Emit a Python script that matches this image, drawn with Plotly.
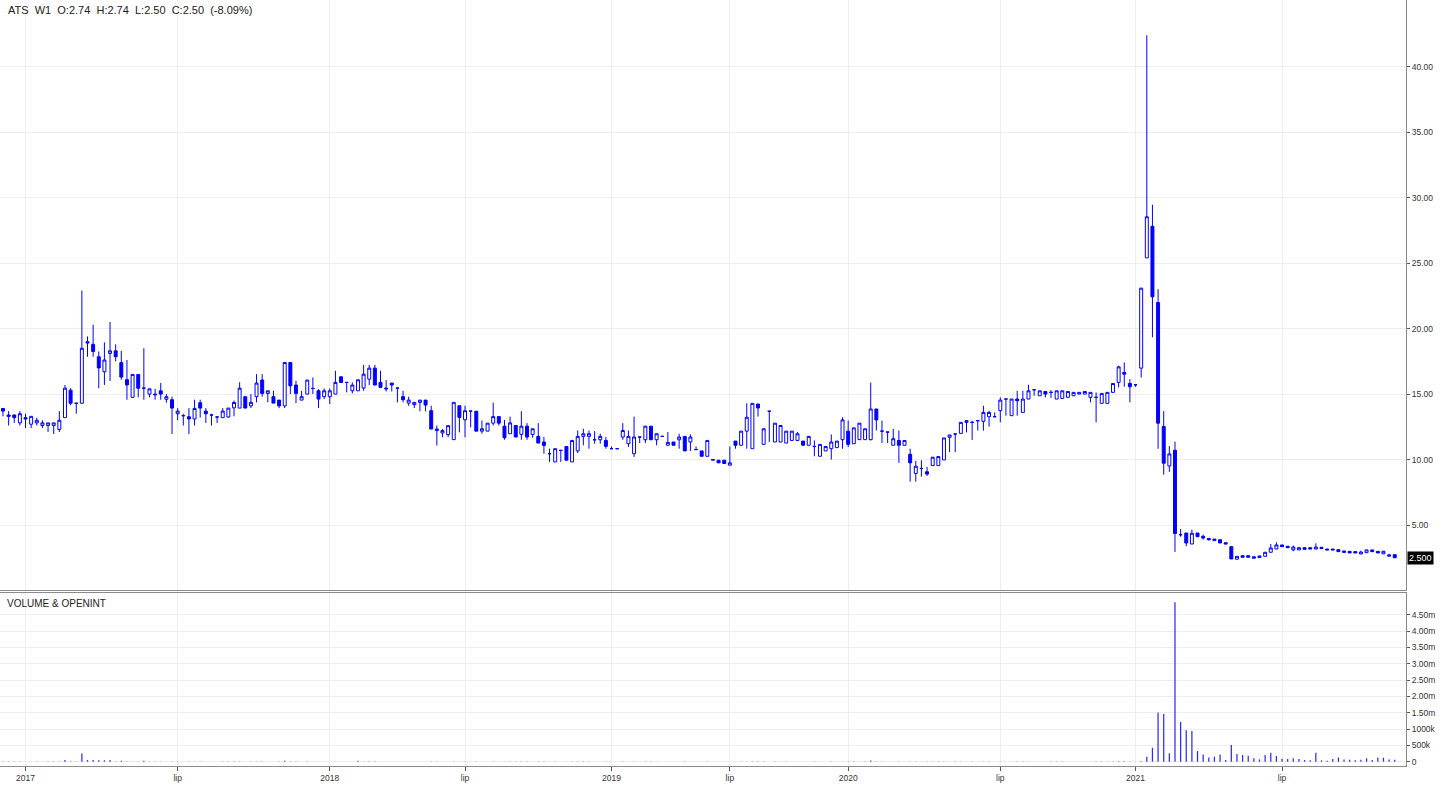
import plotly.graph_objects as go

symbol = "ATS"
interval = "W1"

opens = [
 13.9, 13.4, 13.4, 12.8, 13.2, 12.7, 12.8, 12.6, 12.6, 12.6,
 12.3, 13.2, 15.3, 14.3, 14.3, 19.0, 18.8, 17.85, 16.7, 18.1,
 18.3, 17.4, 16.1, 14.75, 16.5, 15.45, 15.0, 15.0, 15.25, 14.6,
 14.57, 13.5, 13.35, 13.27, 13.1, 14.34, 13.7, 13.4, 13.25, 13.2,
 13.25, 13.95, 13.93, 14.8, 14.1, 14.8, 16.07, 15.05, 14.8, 14.54,
 14.1, 17.41, 15.69, 14.54, 15.0, 15.43, 15.25, 14.8, 14.8, 15.0,
 16.32, 15.89, 15.25, 15.25, 15.46, 16.14, 16.98, 15.89, 15.46, 15.84,
 15.46, 14.8, 14.31, 14.19, 14.37, 14.54, 13.73, 12.21, 12.03, 11.9,
 11.52, 14.11, 13.04, 13.7, 13.69, 12.17, 12.17, 12.78, 13.28, 12.55,
 11.97, 12.6, 11.92, 12.55, 11.92, 11.77, 11.34, 10.45, 9.82, 10.7,
 11.0, 9.82, 10.66, 11.77, 11.77, 11.51, 11.51, 11.46, 10.83, 10.83,
 11.72, 11.21, 10.45, 11.72, 11.51, 12.55, 11.51, 11.77, 11.09, 11.34,
 11.51, 11.77, 11.34, 10.76, 10.66, 10.25, 9.95, 9.95, 9.95, 9.57,
 11.41, 11.09, 12.17, 10.83, 14.24, 11.16, 13.69, 11.34, 11.34, 11.26,
 11.46, 11.46, 11.41, 11.09, 11.0, 10.25, 10.66, 10.83, 10.91, 11.52,
 12.17, 11.21, 11.52, 11.52, 11.52, 13.86, 12.17, 12.1, 11.09, 11.46,
 11.09, 10.4, 8.94, 9.32, 9.07, 9.54, 9.54, 9.97, 11.7, 11.95,
 12.0, 12.84, 12.84, 12.97, 12.92, 13.27, 13.27, 13.73, 14.62, 13.35,
 14.62, 13.6, 14.62, 15.33, 14.87, 15.2, 15.13, 14.62, 14.67, 14.75,
 14.87, 15.0, 15.0, 14.75, 14.75, 14.29, 14.29, 15.13, 15.89, 16.65,
 15.81, 15.71, 16.98, 25.4, 27.81, 21.99, 12.52, 9.51, 10.71, 4.26,
 4.39, 3.55, 4.39, 4.14, 3.98, 3.81, 3.88, 3.65, 3.35, 2.39,
 2.66, 2.66, 2.46, 2.51, 2.61, 2.92, 3.17, 3.48, 3.38, 3.10,
 3.10, 3.27, 3.27, 3.17, 3.30, 3.17, 3.17, 3.12, 3.02, 2.99,
 2.97, 2.79, 2.89, 3.10, 2.99, 2.80, 2.62, 2.74,
]
highs = [
 13.9, 13.7, 13.45, 13.7, 13.5, 13.3, 13.2, 13.0, 12.8, 12.8,
 13.7, 15.7, 15.45, 14.3, 22.9, 19.4, 20.3, 18.25, 18.95, 20.5,
 18.8, 18.3, 17.6, 16.5, 16.5, 18.5, 15.4, 15.4, 15.85, 15.0,
 14.8, 13.93, 13.5, 13.93, 14.57, 14.57, 13.93, 13.5, 13.25, 13.93,
 13.93, 14.5, 15.9, 14.8, 15.0, 16.52, 16.52, 15.25, 15.25, 14.54,
 17.41, 17.41, 16.02, 15.25, 16.07, 16.27, 15.38, 15.43, 15.43, 16.78,
 16.32, 15.89, 15.89, 16.09, 17.23, 17.23, 17.23, 16.78, 16.07, 15.84,
 15.46, 15.25, 14.8, 14.37, 14.54, 14.54, 14.11, 12.59, 12.33, 12.59,
 14.37, 14.11, 14.11, 13.7, 13.69, 12.98, 12.78, 14.34, 13.28, 13.03,
 13.28, 12.6, 13.69, 12.78, 12.35, 12.78, 11.72, 10.83, 10.83, 10.7,
 11.0, 11.46, 12.22, 12.35, 12.22, 12.17, 11.97, 11.72, 11.0, 10.83,
 12.78, 12.22, 13.28, 11.72, 12.55, 12.55, 11.97, 11.77, 12.1, 11.34,
 11.97, 11.77, 11.92, 11.0, 10.66, 11.46, 10.0, 9.95, 9.95, 11.0,
 11.41, 12.17, 14.29, 14.29, 14.24, 12.35, 13.69, 12.78, 12.6, 12.17,
 12.17, 12.1, 11.41, 11.77, 11.46, 11.16, 11.0, 11.92, 11.41, 13.23,
 12.98, 12.42, 12.78, 12.35, 15.88, 13.86, 12.98, 12.1, 12.35, 12.22,
 11.46, 10.83, 9.9, 9.95, 9.44, 10.18, 10.23, 11.65, 11.88, 11.95,
 12.84, 13.02, 12.97, 12.97, 14.11, 13.73, 13.6, 14.75, 14.62, 14.62,
 15.25, 15.25, 15.71, 15.33, 15.25, 15.2, 15.3, 15.25, 15.25, 15.2,
 15.13, 15.13, 15.2, 15.13, 15.13, 15.05, 15.13, 15.81, 17.16, 17.41,
 16.14, 15.71, 23.09, 42.4, 29.46, 23.01, 13.7, 11.03, 11.37, 4.70,
 4.39, 4.65, 4.39, 4.26, 3.98, 3.93, 3.88, 3.65, 3.35, 2.61,
 2.70, 2.66, 2.58, 2.64, 2.92, 3.55, 3.68, 3.48, 3.38, 3.43,
 3.27, 3.27, 3.27, 3.60, 3.30, 3.17, 3.17, 3.12, 3.02, 2.99,
 3.0, 3.05, 3.10, 3.10, 2.99, 3.02, 2.80, 2.74,
]
lows = [
 13.3, 12.6, 12.8, 12.6, 12.4, 12.4, 12.6, 12.4, 12.1, 11.95,
 12.1, 13.2, 14.15, 13.5, 14.3, 17.85, 17.85, 15.45, 15.7, 16.0,
 17.5, 16.1, 14.57, 14.75, 14.75, 14.57, 14.75, 14.57, 14.57, 14.34,
 11.95, 13.0, 12.6, 11.95, 12.6, 13.2, 12.8, 12.6, 12.8, 13.2,
 13.2, 13.3, 13.93, 13.93, 13.93, 14.37, 14.8, 14.37, 14.31, 13.93,
 13.93, 15.0, 14.31, 14.54, 15.0, 15.0, 13.93, 14.62, 14.24, 15.0,
 15.89, 15.13, 15.05, 15.25, 15.25, 15.69, 15.69, 15.46, 15.2, 15.2,
 14.37, 14.37, 14.1, 13.93, 13.68, 13.68, 12.33, 11.07, 11.7, 11.7,
 11.52, 12.08, 11.7, 12.47, 12.17, 11.97, 12.17, 12.6, 12.6, 11.51,
 11.97, 11.72, 11.51, 11.51, 11.67, 11.26, 10.45, 9.82, 9.82, 9.82,
 9.95, 9.82, 10.5, 11.09, 10.83, 11.21, 11.21, 10.83, 10.83, 10.83,
 11.51, 10.96, 10.2, 11.26, 11.26, 11.51, 11.09, 11.77, 11.09, 11.09,
 10.83, 10.66, 10.66, 10.76, 10.25, 10.25, 9.95, 9.75, 9.7, 9.57,
 10.83, 11.09, 10.83, 10.83, 13.28, 11.16, 11.34, 11.34, 11.34, 11.26,
 11.46, 11.46, 11.09, 11.09, 10.25, 10.25, 10.66, 10.0, 10.91, 10.83,
 10.96, 11.21, 11.52, 11.52, 11.46, 12.22, 11.26, 11.26, 11.09, 9.75,
 11.09, 8.31, 8.31, 8.69, 8.74, 9.54, 9.54, 9.97, 10.56, 10.56,
 12.0, 12.08, 11.5, 12.21, 12.21, 12.51, 13.27, 12.84, 13.35, 13.35,
 13.35, 13.6, 14.62, 14.87, 14.87, 14.75, 14.7, 14.62, 14.67, 14.75,
 14.87, 15.0, 15.0, 14.37, 12.84, 14.29, 14.29, 15.13, 15.51, 15.56,
 14.37, 15.56, 16.27, 25.4, 19.34, 10.82, 8.85, 9.06, 2.95, 4.11,
 3.38, 3.55, 4.11, 3.88, 3.81, 3.81, 3.63, 3.55, 2.41, 2.39,
 2.54, 2.54, 2.46, 2.51, 2.61, 2.92, 3.17, 3.35, 3.27, 3.0,
 3.10, 3.15, 3.17, 3.17, 3.20, 3.10, 3.10, 2.97, 2.92, 2.87,
 2.87, 2.79, 2.89, 2.97, 2.87, 2.80, 2.60, 2.50,
]
closes = [
 13.7, 13.3, 13.2, 13.5, 13.1, 13.3, 13.0, 12.8, 12.8, 12.8,
 13.0, 15.45, 14.3, 14.3, 18.5, 18.9, 18.25, 17.0, 17.6, 18.3,
 17.85, 16.3, 15.7, 16.5, 15.45, 15.45, 15.4, 14.95, 15.0, 14.8,
 13.93, 13.7, 13.35, 13.1, 13.9, 13.93, 13.5, 13.4, 13.25, 13.7,
 13.93, 14.36, 15.45, 13.93, 14.37, 15.84, 15.05, 15.25, 14.31, 14.1,
 17.41, 15.63, 15.05, 14.8, 16.07, 15.43, 14.62, 15.25, 15.25, 15.89,
 15.89, 15.89, 15.69, 16.09, 16.52, 16.98, 15.69, 15.51, 15.4, 15.69,
 15.46, 14.57, 14.54, 14.37, 14.54, 14.16, 12.33, 12.33, 12.21, 12.59,
 14.37, 13.22, 13.73, 13.7, 12.17, 12.35, 12.78, 13.28, 12.78, 11.67,
 12.8, 11.72, 12.55, 11.72, 12.35, 11.26, 11.08, 10.45, 10.83, 10.7,
 9.95, 11.46, 11.77, 11.97, 11.97, 11.51, 11.77, 11.01, 10.83, 10.83,
 12.22, 11.77, 11.72, 11.72, 12.55, 11.51, 11.97, 11.77, 11.31, 11.09,
 11.72, 10.66, 11.72, 10.76, 10.25, 11.46, 10.0, 9.75, 9.7, 9.75,
 11.09, 12.17, 13.23, 14.29, 13.94, 12.35, 13.69, 12.78, 12.6, 12.17,
 12.17, 11.97, 11.09, 11.77, 11.0, 11.16, 11.0, 11.34, 11.41, 13.03,
 11.16, 12.42, 12.78, 12.35, 13.86, 13.03, 12.17, 12.1, 11.59, 11.09,
 11.46, 9.75, 9.49, 9.32, 8.89, 10.18, 10.23, 11.65, 11.88, 11.95,
 12.84, 12.97, 12.84, 12.97, 13.6, 13.6, 13.27, 14.54, 14.62, 14.62,
 14.49, 14.62, 15.25, 15.33, 15.25, 15.0, 15.13, 15.25, 15.25, 15.2,
 15.13, 15.13, 15.2, 15.13, 14.75, 15.05, 15.13, 15.81, 17.08, 16.52,
 15.56, 15.71, 23.09, 28.54, 22.43, 12.78, 9.72, 10.43, 4.35, 4.26,
 3.63, 4.37, 4.11, 4.01, 3.88, 3.93, 3.63, 3.55, 2.41, 2.61,
 2.54, 2.54, 2.58, 2.64, 2.92, 3.25, 3.48, 3.35, 3.27, 3.32,
 3.27, 3.15, 3.17, 3.32, 3.20, 3.10, 3.10, 2.97, 2.92, 2.87,
 2.87, 2.94, 3.10, 2.97, 2.87, 3.00, 2.72, 2.50,
]
volumes = [
 4000, 3000, 2500, 5000, 3500, 2000, 3000, 2500, 4000, 6000,
 8000, 50000, 12000, 9000, 250000, 50000, 52000, 45000, 44000, 50000,
 9000, 30000, 7000, 6000, 8000, 30000, 5000, 4000, 6000, 3000,
 9000, 3000, 2000, 4000, 5000, 3000, 2000, 1500, 1000, 3000,
 2500, 3000, 6000, 2000, 3000, 5000, 4000, 1500, 2000, 2500,
 30000, 7000, 4000, 1500, 3000, 2000, 3500, 1500, 2000, 4000,
 2000, 1000, 1500, 30000, 5000, 6000, 5000, 3000, 1500, 1000,
 1000, 2000, 1500, 1000, 1500, 2000, 6000, 3000, 1500, 1200,
 8000, 4000, 3000, 1000, 3500, 1500, 1200, 3000, 2000, 3500,
 3000, 2500, 4000, 3000, 1500, 3000, 4000, 2500, 3000, 1000,
 3000, 5000, 4000, 2500, 3000, 1500, 1200, 2500, 800, 500,
 3000, 2500, 6000, 800, 3000, 2500, 1500, 500, 2000, 1000,
 2000, 2500, 1500, 800, 1500, 2500, 600, 1000, 1200, 2000,
 2500, 3000, 7000, 8000, 3000, 3500, 2000, 4000, 3500, 2500,
 2000, 1500, 1500, 2000, 2500, 2000, 1500, 3000, 1500, 5000,
 4000, 3000, 3500, 2500, 40000, 6000, 3000, 1500, 2000, 4000,
 1500, 8000, 6000, 4000, 3000, 3500, 3000, 6000, 3000, 2500,
 4000, 2500, 3500, 1500, 5000, 3000, 1500, 5000, 2000, 4000,
 4500, 4000, 5000, 1500, 2000, 2500, 2500, 3000, 3000, 2000,
 1500, 1500, 2000, 3000, 6000, 4000, 4500, 6000, 12000, 10000,
 9000, 3000, 15000, 153000, 428000, 1510000, 1460000, 255000, 4890000, 1220000,
 967000, 937000, 326000, 224000, 132000, 153000, 224000, 51000, 509000, 234000,
 204000, 183000, 102000, 71000, 204000, 275000, 173000, 92000, 81000, 102000,
 81000, 51000, 41000, 275000, 41000, 31000, 81000, 132000, 71000, 61000,
 41000, 61000, 102000, 51000, 132000, 122000, 71000, 61000,
]

# time axis: week index of the first bar of each labelled period
tick_labels = ["2017", "lip", "2018", "lip", "2019", "lip", "2020", "lip", "2021", "lip"]
tick_index = [4, 31, 58, 82, 108, 129, 150, 177, 201, 227]

price_ticks = [5, 10, 15, 20, 25, 30, 35, 40]
vol_ticks = [0, 500000, 1000000, 1500000, 2000000, 2500000, 3000000, 3500000, 4000000, 4500000]
vol_tick_text = ["0", "500k", "1000k", "1.50m", "2.00m", "2.50m", "3.00m", "3.50m", "4.00m", "4.50m"]

# ---------------------------------------------------------------
W, H = 1456, 791
ML, MR, MT, MB = 0, 50, 0, 25
PH = H - MT - MB  # plot height in px

def py(screen_y):
    return (H - MB - screen_y) / PH

BLUE = "#0000ff"
FONT = "Arial, Liberation Sans, sans-serif"
GRID = "#eeeeee"
AXC = "#8a8a8a"

x = list(range(len(opens)))

fig = go.Figure()
fig.add_trace(go.Candlestick(
    x=x, open=opens, high=highs, low=lows, close=closes,
    increasing=dict(line=dict(color=BLUE, width=1), fillcolor="#ffffff"),
    decreasing=dict(line=dict(color=BLUE, width=1), fillcolor=BLUE),
    whiskerwidth=0, showlegend=False, hoverinfo="skip",
    xaxis="x", yaxis="y",
))
fig.add_trace(go.Bar(
    x=x, y=volumes, width=0.22,
    marker=dict(color="rgba(38,38,255,0.98)", line=dict(width=0)),
    showlegend=False, hoverinfo="skip",
    xaxis="x2", yaxis="y2",
))

xr = [-0.53, 249.0]
fig.update_layout(
    width=W, height=H,
    margin=dict(l=ML, r=MR, t=MT, b=MB),
    paper_bgcolor="white", plot_bgcolor="white",
    font=dict(family=FONT, size=9, color="#333333"),
    boxgap=0.25,
    xaxis=dict(
        domain=[0, 1], anchor="y", range=xr, matches="x2",
        rangeslider=dict(visible=False),
        tickmode="array", tickvals=tick_index, ticktext=tick_labels,
        showticklabels=False, ticks="",
        showgrid=True, gridcolor=GRID, gridwidth=1, zeroline=False,
        showline=True, linecolor=AXC, linewidth=1,
    ),
    yaxis=dict(
        domain=[py(590), 1], anchor="x", side="right",
        range=[0.04, 45.09],
        tickmode="array", tickvals=price_ticks,
        ticktext=[f"{v:.2f}" for v in price_ticks],
        ticks="outside", ticklen=3, tickcolor="#555555",
        tickfont=dict(family=FONT, size=8.5, color="#333333"),
        showgrid=True, gridcolor=GRID, gridwidth=1, zeroline=False,
        showline=True, linecolor=AXC, linewidth=1,
    ),
    xaxis2=dict(
        domain=[0, 1], anchor="y2", range=xr,
        tickmode="array", tickvals=tick_index, ticktext=tick_labels,
        ticks="outside", ticklen=4, tickcolor="#555555",
        tickfont=dict(family=FONT, size=8.5, color="#333333"),
        showgrid=True, gridcolor=GRID, gridwidth=1, zeroline=False,
        showline=True, linecolor=AXC, linewidth=1, mirror=True,
    ),
    yaxis2=dict(
        domain=[0, py(593)], anchor="x2", side="right",
        range=[-132000, 5170000],
        tickmode="array", tickvals=vol_ticks, ticktext=vol_tick_text,
        ticks="outside", ticklen=3, tickcolor="#555555",
        tickfont=dict(family=FONT, size=8.5, color="#333333"),
        showgrid=True, gridcolor=GRID, gridwidth=1, zeroline=False,
        showline=True, linecolor=AXC, linewidth=1,
    ),
)

last = len(closes) - 1
chg = (closes[last] / closes[last - 1] - 1) * 100
sp = "\u00a0\u00a0"
header = (f"{symbol}{sp}{interval}{sp}O:{opens[last]:.2f}{sp}H:{highs[last]:.2f}{sp}"
          f"L:{lows[last]:.2f}{sp}C:{closes[last]:.2f}{sp}({chg:.2f}%)")

fig.add_annotation(text=header, xref="paper", yref="paper", x=6 / (W - MR), y=py(10),
                   xanchor="left", yanchor="middle", showarrow=False,
                   font=dict(family=FONT, size=11, color="#222222"))
fig.add_annotation(text="VOLUME &amp; OPENINT", xref="paper", yref="paper", x=5 / (W - MR), y=py(603),
                   xanchor="left", yanchor="middle", showarrow=False,
                   font=dict(family=FONT, size=10, color="#222222"))
fig.add_annotation(text=f"{closes[last]:.3f}", xref="paper", yref="y", x=1, y=closes[last],
                   xanchor="left", yanchor="middle", xshift=1, showarrow=False,
                   bgcolor="#000000", borderpad=1,
                   font=dict(family=FONT, size=9, color="#ffffff"))

fig.write_html("out.html", config={"displayModeBar": False},
               post_script="document.body.style.margin='0px';")
